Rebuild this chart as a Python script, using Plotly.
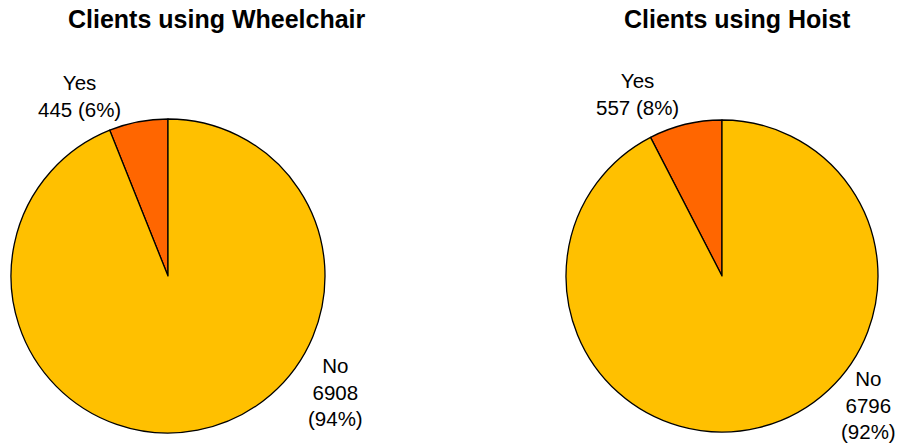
import plotly.graph_objects as go

# Client counts per equipment type
labels = ["Yes", "No"]
wheelchair_counts = [445, 6908]
hoist_counts = [557, 6796]
chart_titles = ["Clients using Wheelchair", "Clients using Hoist"]

colors = ["#FF6600", "#FFC000"]
FONT = "Liberation Sans, Arial, sans-serif"
W, H = 901, 445


def px_x(x):
    return x / W


def px_y(y):
    return 1 - y / H


def pct(v, total):
    return round(100 * v / total)


fig = go.Figure()

domains = [
    dict(x=[px_x(11), px_x(325)], y=[px_y(433), px_y(119)]),
    dict(x=[px_x(566), px_x(878)], y=[px_y(432), px_y(120)]),
]

for counts, dom in zip([wheelchair_counts, hoist_counts], domains):
    fig.add_trace(go.Pie(
        labels=labels,
        values=counts,
        sort=False,
        direction="clockwise",
        rotation=0,
        marker=dict(colors=colors, line=dict(color="black", width=1.3)),
        textinfo="none",
        hoverinfo="label+value+percent",
        domain=dom,
        showlegend=False,
    ))
# Yes slices sit to the left of 12 o'clock: rotate by their own angle
for i, counts in enumerate([wheelchair_counts, hoist_counts]):
    fig.data[i].rotation = -360 * counts[0] / sum(counts)

annotations = []
# titles
for title, cx in zip(chart_titles, [217, 737]):
    annotations.append(dict(
        text=f"<b>{title}</b>", x=px_x(cx), y=px_y(19), xref="paper", yref="paper",
        showarrow=False, xanchor="center", yanchor="middle",
        font=dict(family=FONT, size=25, color="black"),
    ))

# slice labels
label_pos = [
    [(79, 96), (335, 392)],
    [(637, 94), (868, 405)],
]
for counts, pos in zip([wheelchair_counts, hoist_counts], label_pos):
    total = sum(counts)
    yes_txt = f"{labels[0]}<br>{counts[0]} ({pct(counts[0], total)}%)"
    no_txt = f"{labels[1]}<br>{counts[1]}<br>({pct(counts[1], total)}%)"
    for txt, (lx, ly) in zip([yes_txt, no_txt], pos):
        annotations.append(dict(
            text=txt, x=px_x(lx), y=px_y(ly), xref="paper", yref="paper",
            showarrow=False, xanchor="center", yanchor="middle", align="center",
            font=dict(family=FONT, size=20.5, color="black"),
        ))

fig.update_layout(
    width=W, height=H,
    margin=dict(l=0, r=0, t=0, b=0),
    paper_bgcolor="white",
    plot_bgcolor="white",
    annotations=annotations,
)

fig.write_html("out.html")
